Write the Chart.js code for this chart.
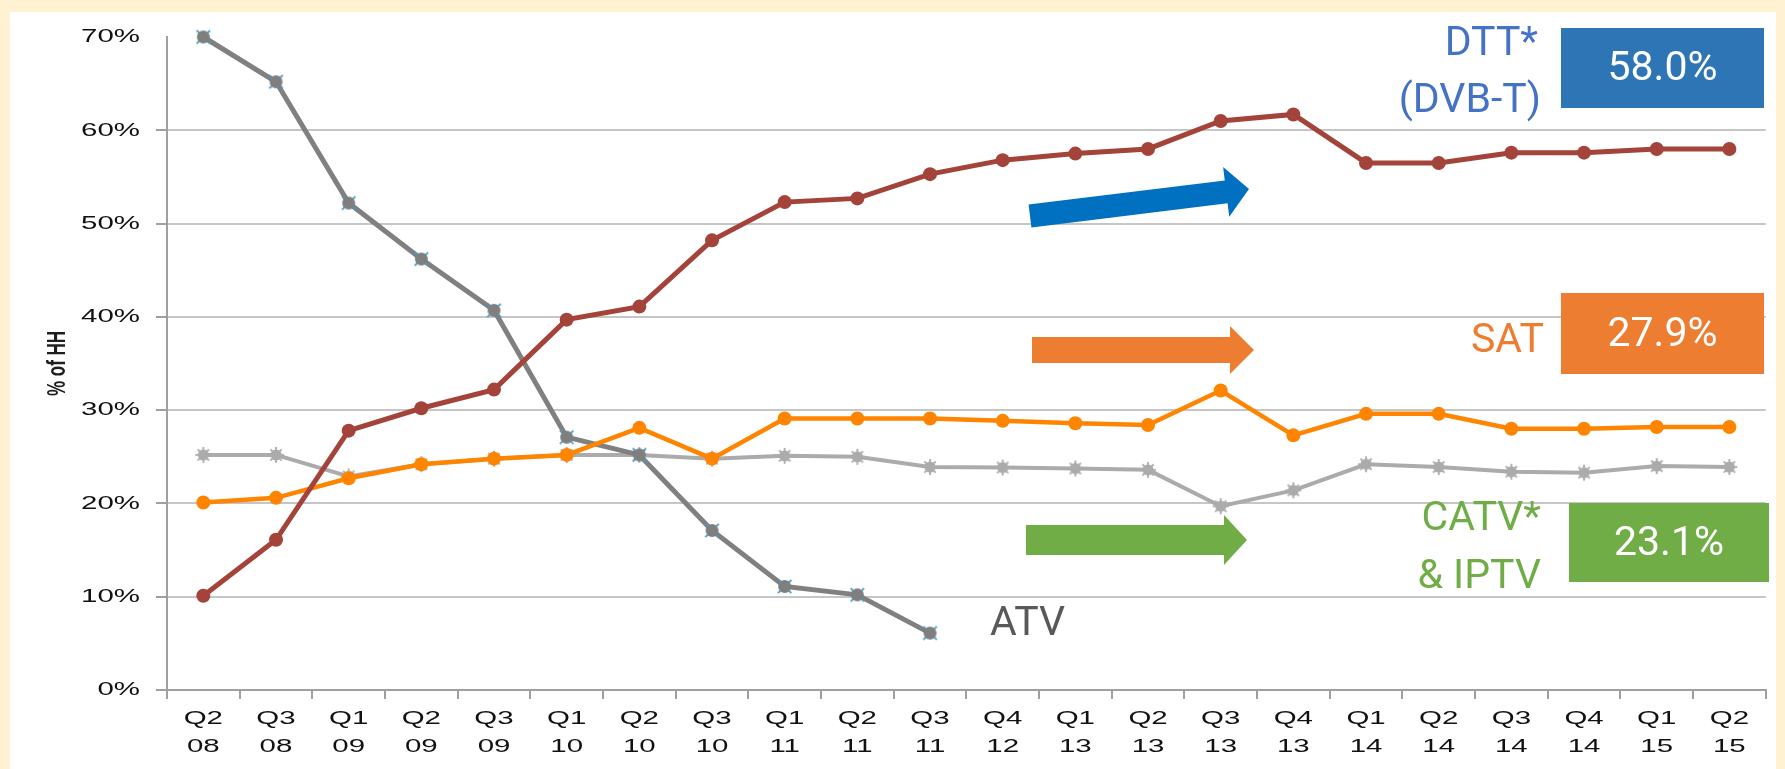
<!DOCTYPE html>
<html><head><meta charset="utf-8">
<script src="https://cdn.jsdelivr.net/npm/chart.js@4.4.0/dist/chart.umd.min.js"></script>
<style>
html,body{margin:0;padding:0;background:#FEF2D2;width:1785px;height:769px;overflow:hidden;}
#panel{position:absolute;left:10px;top:12px;width:1766px;height:757px;background:#ffffff;}
#c{position:absolute;left:0;top:0;}
</style></head><body>
<div id="panel"></div>
<canvas id="c" width="1785" height="769"></canvas>
<script>
// ---- data ----
const quarters = ['Q2','Q3','Q1','Q2','Q3','Q1','Q2','Q3','Q1','Q2','Q3','Q4','Q1','Q2','Q3','Q4','Q1','Q2','Q3','Q4','Q1','Q2'];
const years    = ['08','08','09','09','09','10','10','10','11','11','11','12','13','13','13','13','14','14','14','14','15','15'];
const dtt  = [10.1,16.1,27.8,30.2,32.2,39.7,41.1,48.2,52.3,52.7,55.3,56.8,57.5,58.0,61.0,61.7,56.5,56.5,57.6,57.6,58.0,58.0];
const sat  = [20.1,20.6,22.7,24.2,24.8,25.2,28.1,24.8,29.1,29.1,29.1,28.85,28.6,28.4,32.1,27.3,29.6,29.6,28.0,28.0,28.2,28.2];
const atv  = [70.0,65.2,52.2,46.2,40.7,27.1,25.2,17.1,11.1,10.2,6.1,null,null,null,null,null,null,null,null,null,null,null];
const catv = [25.2,25.2,22.9,24.2,24.8,25.2,25.2,24.8,25.1,25.0,23.9,23.85,23.75,23.6,19.7,21.4,24.2,23.9,23.4,23.3,24.0,23.9];
const yMin = 0, yMax = 70, yStep = 10;
const yTitle = '% of HH';
const finalValues = ['58.0%','27.9%','23.1%'];
const seriesNames = ['DTT*','(DVB-T)','SAT','CATV*','& IPTV','ATV'];

const categories = quarters.map((q,i)=>[q, years[i]]);

// ---- marker images ----
function marker(fill, spoke, r, sr, n){
  const s = Math.ceil(2*sr+4), c = document.createElement('canvas');
  c.width = c.height = s; const g = c.getContext('2d'), m = s/2;
  g.strokeStyle = spoke; g.lineWidth = 1.8;
  for (let k=0;k<n;k++){
    const a = Math.PI/4 + k*Math.PI/(n/2)/2*2/ (n===2?1:1) ;
    const aa = n===2 ? Math.PI/4 + k*Math.PI/2 : k*Math.PI/4;
    g.beginPath(); g.moveTo(m - Math.cos(aa)*sr, m - Math.sin(aa)*sr); g.lineTo(m + Math.cos(aa)*sr, m + Math.sin(aa)*sr); g.stroke();
  }
  g.fillStyle = fill; g.beginPath(); g.arc(m,m,r,0,Math.PI*2); g.fill();
  return c;
}
const atvMarker = marker('#7F7F7F', '#3F9FCB', 6.5, 9.5, 2);
const catvMarker = marker('#ABABAB', '#ABABAB', 5.5, 8, 4);

// ---- stretched axis text ----
const STRETCH = 1.55;
const stretchPlugin = {
  id: 'stretch',
  beforeDraw(chart){
    const ctx = chart.ctx;
    const orig = CanvasRenderingContext2D.prototype.fillText;
    ctx.fillText = function(text, x, y){
      this.save();
      this.translate(x, y);
      const t = this.getTransform();
      if (Math.abs(t.b) > 0.5) this.scale(1, STRETCH); else this.scale(STRETCH, 1);
      orig.call(this, text, 0, 0);
      this.restore();
    };
  },
  beforeDatasetsDraw(chart){ delete chart.ctx.fillText; }
};

// ---- annotations ----
const arrows = [
  {color:'#0070C0', x0:1030, y0:216, x1:1249, y1:189, shaft:23, head:50, headLen:23},
  {color:'#ED7D31', x0:1032, y0:350, x1:1254, y1:350, shaft:26, head:48, headLen:24},
  {color:'#70AD47', x0:1026, y0:540, x1:1247, y1:540, shaft:30, head:50, headLen:23}
];
const boxes = [
  {color:'#2E75B6', x:1561, y:28,  w:203, h:80},
  {color:'#ED7D31', x:1561, y:293, w:203, h:81},
  {color:'#70AD47', x:1569, y:503, w:200, h:79}
];
const labelStyles = [
  {color:'#4472C4', x:1538, y:55,  align:'right'},
  {color:'#4472C4', x:1541, y:112, align:'right'},
  {color:'#ED7D31', x:1544, y:352, align:'right'},
  {color:'#70AD47', x:1541, y:530, align:'right'},
  {color:'#70AD47', x:1541, y:588, align:'right'},
  {color:'#595959', x:990,  y:635, align:'left'}
];
const annoPlugin = {
  id: 'anno',
  afterDraw(chart){
    const ctx = chart.ctx;
    ctx.save();
    arrows.forEach(a=>{
      const dx = a.x1-a.x0, dy = a.y1-a.y0, len = Math.hypot(dx,dy), ang = Math.atan2(dy,dx);
      ctx.save(); ctx.translate(a.x0,a.y0); ctx.rotate(ang);
      ctx.fillStyle = a.color; ctx.beginPath();
      ctx.moveTo(0,-a.shaft/2); ctx.lineTo(len-a.headLen,-a.shaft/2); ctx.lineTo(len-a.headLen,-a.head/2);
      ctx.lineTo(len,0); ctx.lineTo(len-a.headLen,a.head/2); ctx.lineTo(len-a.headLen,a.shaft/2); ctx.lineTo(0,a.shaft/2);
      ctx.closePath(); ctx.fill(); ctx.restore();
    });
    ctx.font = '41px Roboto';
    boxes.forEach((b,i)=>{
      ctx.fillStyle = b.color; ctx.fillRect(b.x,b.y,b.w,b.h);
      ctx.fillStyle = '#ffffff'; ctx.textAlign='center'; ctx.textBaseline='middle';
      ctx.fillText(finalValues[i], b.x+b.w/2, b.y+b.h/2+2);
    });
    ctx.textBaseline = 'alphabetic';
    labelStyles.forEach((l,i)=>{
      ctx.fillStyle = l.color; ctx.textAlign = l.align;
      ctx.fillText(seriesNames[i], l.x, l.y);
    });
    ctx.restore();
  }
};

const gridColor = '#C6C6C6', axisColor = '#A0A0A0';
new Chart(document.getElementById('c'), {
  type: 'line',
  data: {
    labels: categories,
    datasets: [
      {label:'DTT', data:dtt, borderColor:'#A3433A', backgroundColor:'#A3433A', borderWidth:5, pointRadius:7, pointStyle:'circle', pointBorderWidth:0, tension:0, clip:false},
      {label:'SAT', data:sat, borderColor:'#FF8400', backgroundColor:'#FF8400', borderWidth:4.5, pointRadius:7, pointStyle:'circle', pointBorderWidth:0, tension:0, clip:false},
      {label:'ATV', data:atv, borderColor:'#808080', backgroundColor:'#808080', borderWidth:5, pointStyle:atvMarker, pointRadius:8, tension:0, spanGaps:false, clip:false},
      {label:'CATV', data:catv, borderColor:'#ABABAB', backgroundColor:'#ABABAB', borderWidth:4, pointStyle:catvMarker, pointRadius:7, tension:0, clip:false}
    ]
  },
  options: {
    responsive:false, animation:false, devicePixelRatio:1,
    layout:{padding:{left:0, top:37, right:19.3, bottom:0}},
    plugins:{legend:{display:false}, tooltip:{enabled:false}},
    scales:{
      x:{
        offset:true,
        grid:{display:true, drawOnChartArea:false, drawTicks:true, tickLength:9, offset:true, color:axisColor, lineWidth:2},
        border:{display:true, color:axisColor, width:2},
        ticks:{autoSkip:false, maxRotation:0, minRotation:0, color:'#111111', padding:6,
               font:{family:'"Liberation Sans", Arial, sans-serif', size:19, lineHeight:1.45}},
        afterFit(s){ s.height = 79; }
      },
      y:{
        min:yMin, max:yMax,
        grid:{color:(c)=> c.tick && c.tick.value===yMax ? 'rgba(0,0,0,0)' : gridColor,
              tickColor:(c)=> c.tick && c.tick.value===yMax ? 'rgba(0,0,0,0)' : axisColor,
              lineWidth:2, tickLength:11},
        border:{display:true, color:axisColor, width:2},
        ticks:{stepSize:yStep, padding:16, color:'#111111', callback:(v)=> v + '%',
               font:{family:'"Liberation Sans", Arial, sans-serif', size:19}},
        title:{display:true, text:yTitle, color:'#1E1E1E', padding:{top:48, bottom:0},
               font:{family:'"Liberation Sans", Arial, sans-serif', size:17, weight:'bold'}},
        afterFit(s){ s.width = 167; }
      }
    }
  },
  plugins:[stretchPlugin, annoPlugin]
});
</script>
</body></html>
